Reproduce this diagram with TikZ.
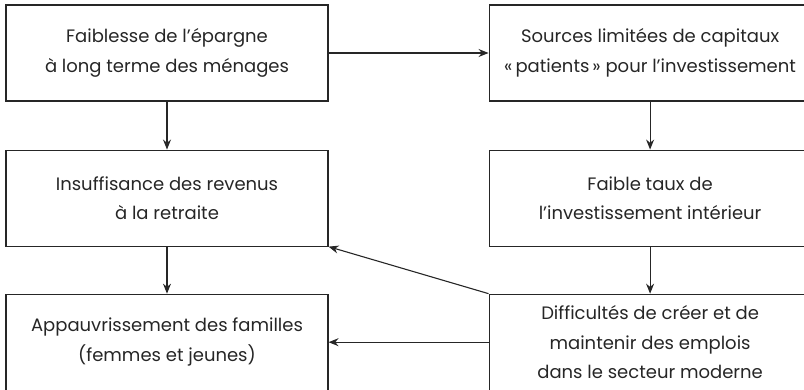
\documentclass[tikz,border=0pt]{standalone}
\usepackage{fontspec}
\setmainfont{Poppins}
\usetikzlibrary{positioning,arrows.meta}
\begin{document}
\begin{tikzpicture}[
        box/.style = {draw = black!85, line width = 0.55pt, minimum width = 161pt, minimum height = 48pt,
                      align = center, text = black!85, inner sep = 0pt,
                      font = \fontsize{9}{14.8}\selectfont},
        arr/.style = {draw = black!85, line width = 0.55pt, -{Stealth[length = 5pt, width = 4pt]}}
    ]
    \useasboundingbox (0,0) rectangle (402pt,-195pt);
    \node[box] (epargne) at (83.5pt,-26.5pt) {Faiblesse de l’épargne\\à long terme des ménages};
    \node[box, right = 80pt of epargne] (capitaux) {Sources limitées de capitaux\\«\,patients\,» pour l’investissement};
    \node[box, below = 24pt of epargne] (retraite) {Insuffisance des revenus\\à la retraite};
    \node[box, below = 24pt of capitaux] (invest) {Faible taux de\\l’investissement intérieur};
    \node[box, below = 23.5pt of retraite] (familles) {Appauvrissement des familles\\(femmes et jeunes)};
    \node[box, below = 23.5pt of invest] (emplois) {Difficultés de créer et de\\maintenir des emplois\\dans le secteur moderne};
    \begin{scope}[every path/.append style = arr]
        \draw (epargne) -- (capitaux);
        \draw (epargne) -- (retraite);
        \draw (retraite) -- (familles);
        \draw (capitaux) -- (invest);
        \draw (invest) -- (emplois);
        \draw (emplois.north west) -- (retraite.south east);
        \draw (emplois) -- (familles);
    \end{scope}
\end{tikzpicture}
\end{document}
